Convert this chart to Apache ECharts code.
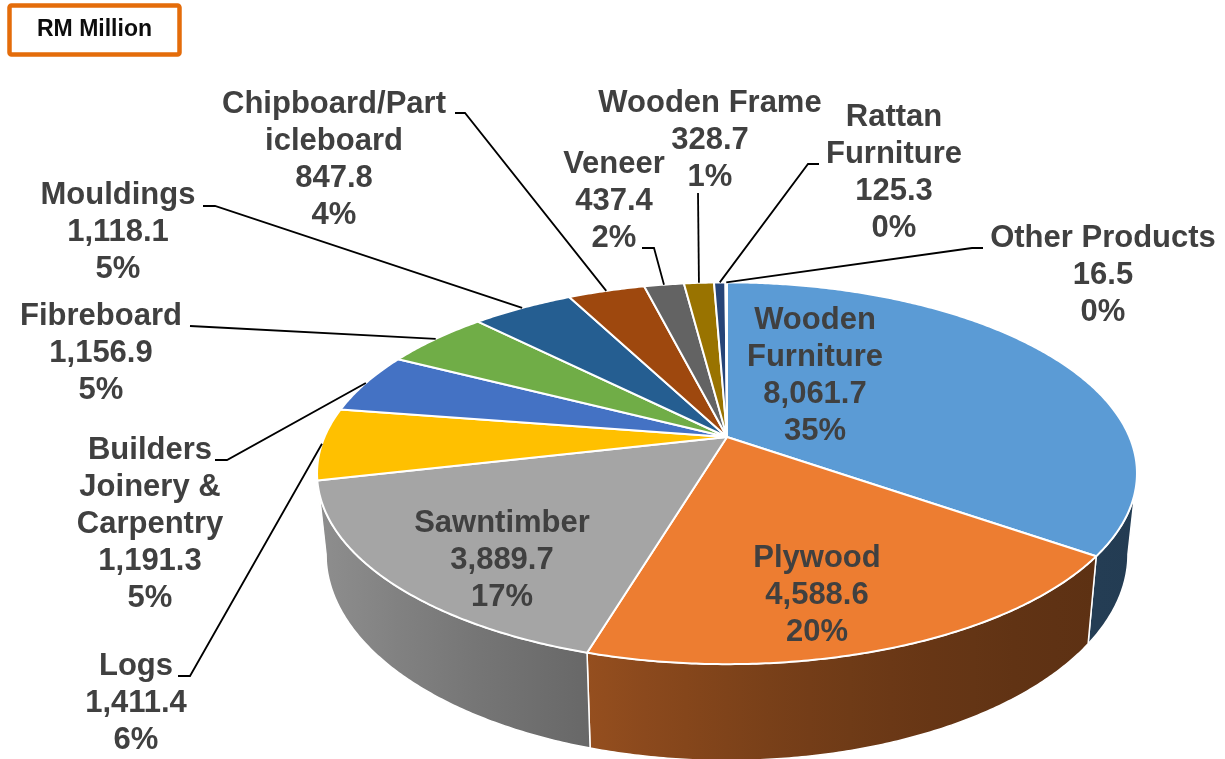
<!DOCTYPE html>
<html><head><meta charset="utf-8">
<script src="https://cdn.jsdelivr.net/npm/echarts@6/dist/echarts.min.js"></script>
<style>html,body{margin:0;padding:0;background:#fff}#c{width:1225px;height:759px}</style>
</head><body><div id="c"></div>
<script>
// ---------------- DATA ----------------
const categories = ['Wooden Furniture','Plywood','Sawntimber','Logs','Builders Joinery & Carpentry','Fibreboard','Mouldings','Chipboard/Particleboard','Veneer','Wooden Frame','Rattan Furniture','Other Products'];
const labelNames = ['Wooden\nFurniture','Plywood','Sawntimber','Logs','Builders\nJoinery &\nCarpentry','Fibreboard','Mouldings','Chipboard/Part\nicleboard','Veneer','Wooden Frame','Rattan\nFurniture','Other Products'];
const values = [8061.7, 4588.6, 3889.7, 1411.4, 1191.3, 1156.9, 1118.1, 847.8, 437.4, 328.7, 125.3, 16.5];
const percentLabels = ['35%','20%','17%','6%','5%','5%','5%','4%','2%','1%','0%','0%'];
const unitLabel = 'RM Million';

// ---------------- STYLE / LAYOUT ----------------
const colors = ['#5B9BD5','#ED7D31','#A5A5A5','#FFC000','#4472C4','#70AD47','#255E91','#9E480E','#636363','#997300','#264478','#43682B'];
const CX = 727, CY = 437, A = 402.5, B = 184, K = 0.19, T = 78, SHRINK = 0.978;
const labelPos = [[815,375.5],[817,595],[502,560],[136,703],[150,524],[101,353],[118,232],[334,159.5],[614,201.5],[710,140],[894,173],[1103,275.5]];
const leaderStart = [null,null,null,
  [[178,676],[190,676]],
  [[215,460],[227,460]],
  [[190,326]],
  [[203,206],[215,206]],
  [[455,113],[465,113]],
  [[642,248],[654,248]],
  [[698,193]],
  [[819,164],[808,164]],
  [[983,248],[972,248]]];
const FONT = 'bold 31px "Liberation Sans", Arial, sans-serif';

// ---------------- GEOMETRY ----------------
const total = values.reduce((a,b)=>a+b,0);
const starts = [], ends = [];
(function(){ let c=0; values.forEach(v=>{ starts.push(c/total*2*Math.PI); c+=v; ends.push(c/total*2*Math.PI); }); })();
const VIS0 = Math.acos(-K), VIS1 = 2*Math.PI - VIS0;

function proj(t){ const u=Math.sin(t), v=Math.cos(t), d=1+K*v; return [CX+A*u/d, CY-B*v/d, d]; }
function projBottom(t){ const p=proj(t); return [CX+(p[0]-CX)*SHRINK, p[1]+T/p[2]]; }
function shade(hex,f){ const n=parseInt(hex.slice(1),16); const r=Math.round(((n>>16)&255)*f), g=Math.round(((n>>8)&255)*f), b=Math.round((n&255)*f); return 'rgb('+r+','+g+','+b+')'; }
function factor(x){ const t=Math.min(1,Math.max(0,(CX+A*1.0185-x)/(2*A*1.0185))); return 0.39+0.47*Math.pow(t,1.7); }
function fmt(v){ return v.toLocaleString('en-US',{minimumFractionDigits:1,maximumFractionDigits:1}); }

const chart = echarts.init(document.getElementById('c'), null, {renderer:'canvas'});
const data = values.map((v,i)=>[i,v]);

function renderWall(params, api){
  const i = api.value(0);
  const s = Math.max(starts[i], VIS0), e = Math.min(ends[i], VIS1);
  if (e <= s) return {type:'group', children:[]};
  const n = Math.max(2, Math.ceil((e-s)/(Math.PI/360)));
  const top=[], bot=[];
  for (let j=0;j<=n;j++){ const t=s+(e-s)*j/n; const p=proj(t); top.push([p[0],p[1]]); bot.push(projBottom(t)); }
  const pts = top.concat(bot.reverse());
  const x0 = CX-A*1.02, x1 = CX+A*1.02, stops=[];
  for (let j=0;j<=20;j++){ const x=x0+(x1-x0)*j/20; stops.push({offset:j/20, color:shade(colors[i], factor(x))}); }
  return {type:'polygon', shape:{points:pts}, style:{fill:new echarts.graphic.LinearGradient(x0,0,x1,0,stops,true), stroke:'#ffffff', lineWidth:1.5}};
}
function renderTop(params, api){
  const i = api.value(0);
  const s = starts[i], e = ends[i];
  const n = Math.max(2, Math.ceil((e-s)/(Math.PI/360)));
  const pts=[[CX,CY]];
  for (let j=0;j<=n;j++){ const p=proj(s+(e-s)*j/n); pts.push([p[0],p[1]]); }
  return {type:'polygon', shape:{points:pts}, style:{fill:colors[i], stroke:'#ffffff', lineWidth:2, lineJoin:'round'}};
}
function renderLabel(params, api){
  const i = api.value(0);
  const children = [];
  if (leaderStart[i]){
    const m = (starts[i]+ends[i])/2, p = proj(m);
    children.push({type:'polyline', shape:{points:leaderStart[i].concat([[p[0],p[1]]])}, style:{stroke:'#000', lineWidth:1.8, fill:null}});
  }
  children.push({type:'text', style:{text: labelNames[i]+'\n'+fmt(api.value(1))+'\n'+percentLabels[i], x:labelPos[i][0], y:labelPos[i][1], align:'center', verticalAlign:'middle', font:FONT, lineHeight:37, fill:'#404040'}});
  return {type:'group', children};
}

chart.setOption({
  backgroundColor:'#ffffff',
  animation:false,
  graphic:[
    {type:'rect', shape:{x:9.5,y:5.5,width:170,height:49,r:2}, style:{fill:'#fff', stroke:'#E46C0A', lineWidth:4.5}, z:10},
    {type:'text', style:{text:unitLabel, x:94.5, y:30, align:'center', verticalAlign:'middle', font:'bold 23px "Liberation Sans", Arial, sans-serif', fill:'#0D0D0D'}, z:11}
  ],
  series:[
    {type:'custom', name:'walls', coordinateSystem:'none', data:data, renderItem:renderWall, z:1, silent:true},
    {type:'custom', name:'top', coordinateSystem:'none', data:data, renderItem:renderTop, z:2, silent:true},
    {type:'custom', name:'labels', coordinateSystem:'none', data:data, renderItem:renderLabel, z:3, silent:true}
  ]
});
</script></body></html>
